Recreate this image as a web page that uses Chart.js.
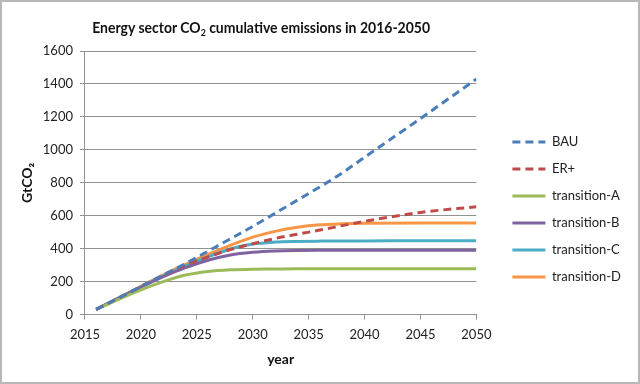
<!DOCTYPE html>
<html>
<head>
<meta charset="utf-8">
<script src="https://cdn.jsdelivr.net/npm/chart.js@4.4.1/dist/chart.umd.min.js"></script>
<style>
    body { margin: 0; background: #fff; }
    #wrap { position: relative; width: 640px; height: 384px; overflow: hidden; }
    #chart { position: absolute; left: 0; top: 0; }
    #frame { position: absolute; left: 0; top: 0; width: 640px; height: 384px; box-sizing: border-box; border: 2px solid #b8b8b8; pointer-events: none; }
    #title { position: absolute; left: 0; top: 17px; width: 522px; text-align: center; white-space: nowrap; }
    #title span { display: inline-block; font: bold 16px Lato, sans-serif; color: #111; transform: scaleX(0.875); transform-origin: 50% 50%; }
    #title sub { font-size: 10px; vertical-align: -3px; line-height: 0; }
</style>
</head>
<body>
<div id="wrap">
    <canvas id="chart" width="640" height="384"></canvas>
    <div id="title"><span>Energy sector CO<sub>2</sub> cumulative emissions in 2016-2050</span></div>
    <div id="frame"></div>
</div>
<script>
// данные
const years = [2016, 2018, 2020, 2022, 2024, 2026, 2028, 2030, 2032, 2034, 2036, 2038, 2040, 2045, 2050];
const bau   = [32, 100, 170, 240, 310, 385, 460, 535, 615, 695, 775, 860, 955, 1190, 1430];
const erPlus = [32, 100, 170, 238, 300, 350, 395, 430, 462, 488, 513, 540, 566, 620, 655];
const transA = [30, 92, 150, 200, 240, 262, 272, 276, 277, 278, 278, 278, 278, 278, 278];
const transB = [32, 100, 166, 230, 285, 330, 362, 378, 386, 389, 390, 390, 390, 390, 390];
const transC = [32, 100, 168, 235, 295, 350, 398, 428, 440, 444, 446, 447, 447, 448, 448];
const transD = [32, 100, 172, 242, 305, 365, 420, 470, 505, 530, 545, 551, 554, 556, 556];

const seriesNames = ["BAU", "ER+", "transition-A", "transition-B", "transition-C", "transition-D"];
const seriesValues = [bau, erPlus, transA, transB, transC, transD];
const seriesColors = ["#4a7ebb", "#be4b48", "#9bbb59", "#7f63a1", "#4bacc6", "#f79646"];
const seriesDashed = [true, true, false, false, false, false];

const xTicks = [2015, 2020, 2025, 2030, 2035, 2040, 2045, 2050];
const yTicks = [0, 200, 400, 600, 800, 1000, 1200, 1400, 1600];

const font = "Lato, 'Open Sans', sans-serif";
const gridColor = "#929292";
const dashPattern = [8, 5];

function toPoints(values) {
    return values.map((v, i) => ({ x: years[i], y: v }));
}

const datasets = seriesNames.map((name, i) => ({
    label: name,
    data: toPoints(seriesValues[i]),
    borderColor: seriesColors[i],
    backgroundColor: seriesColors[i],
    borderWidth: 3,
    borderDash: seriesDashed[i] ? dashPattern : [],
    pointRadius: 0,
    cubicInterpolationMode: "monotone",
    fill: false
}));

// сдвигаем легенду на нужное место
const legendShift = {
    id: "legendShift",
    afterLayout(chart) {
        const lg = chart.legend;
        if (!lg) return;
        lg.left += 22;
        lg.right += 22;
    }
};

new Chart(document.getElementById("chart"), {
    type: "line",
    data: { datasets: datasets },
    plugins: [legendShift],
    options: {
        responsive: false,
        animation: false,
        layout: { padding: { top: 51, left: 19, right: 31, bottom: 16 } },
        plugins: {
            title: { display: false },
            tooltip: { enabled: false },
            legend: {
                position: "right",
                labels: {
                    usePointStyle: true,
                    pointStyle: "line",
                    pointStyleWidth: 33,
                    boxHeight: 13,
                    padding: 14,
                    color: "#222",
                    font: { family: font, size: 13 },
                    generateLabels(chart) {
                        const items = Chart.defaults.plugins.legend.labels.generateLabels(chart);
                        items.forEach((it) => {
                            it.lineDash = seriesDashed[it.datasetIndex] ? dashPattern : [];
                            it.lineWidth = 3;
                            it.strokeStyle = seriesColors[it.datasetIndex];
                        });
                        return items;
                    }
                }
            }
        },
        scales: {
            x: {
                type: "linear",
                min: 2015,
                max: 2050,
                afterBuildTicks: (axis) => { axis.ticks = xTicks.map(v => ({ value: v })); },
                ticks: {
                    color: "#222",
                    padding: 7,
                    maxRotation: 0,
                    font: { family: font, size: 13 },
                    callback: (v) => String(v)
                },
                grid: { drawOnChartArea: false, drawTicks: true, tickLength: 5, color: gridColor },
                border: { color: gridColor },
                title: {
                    display: true,
                    text: "year",
                    color: "#111",
                    padding: { top: 2, bottom: 0 },
                    font: { family: font, size: 14, weight: "bold" }
                }
            },
            y: {
                min: 0,
                max: 1600,
                afterBuildTicks: (axis) => { axis.ticks = yTicks.map(v => ({ value: v })); },
                ticks: {
                    color: "#222",
                    padding: 7,
                    font: { family: font, size: 13 },
                    callback: (v) => String(v)
                },
                grid: { color: gridColor, tickLength: 5 },
                border: { color: gridColor },
                title: {
                    display: true,
                    text: "GtCO₂",
                    color: "#111",
                    padding: { top: 0, bottom: 0 },
                    font: { family: font, size: 14, weight: "bold" }
                }
            }
        }
    }
});
</script>
</body>
</html>
